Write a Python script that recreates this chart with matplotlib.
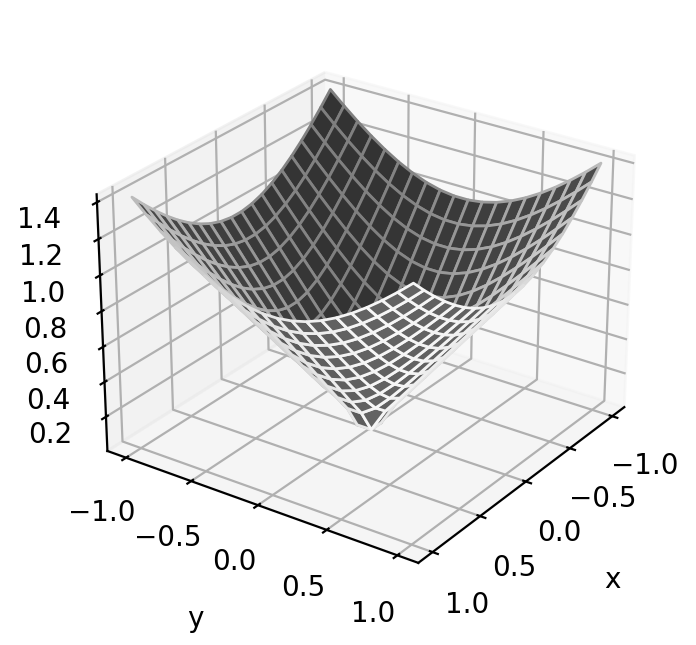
import numpy as np
import matplotlib
matplotlib.use("Agg")
import matplotlib.pyplot as plt

# x and y grid positions (one half; the other half mirrors it)
half_axis = [0.0526, 0.1579, 0.2632, 0.3684, 0.4737, 0.5789, 0.6842, 0.7895, 0.8947, 1.0]

# surface heights for one quadrant of the grid
z_quadrant = [
    [0.0300, 0.1664, 0.2684, 0.3722, 0.4766, 0.5813, 0.6862, 0.7912, 0.8963, 1.0014],
    [0.1664, 0.2233, 0.3069, 0.4008, 0.4993, 0.6001, 0.7022, 0.8051, 0.9086, 1.0124],
    [0.2684, 0.3069, 0.3722, 0.4527, 0.5419, 0.6360, 0.7331, 0.8322, 0.9326, 1.0340],
    [0.3722, 0.4008, 0.4527, 0.5210, 0.6001, 0.6862, 0.7771, 0.8712, 0.9676, 1.0657],
    [0.4766, 0.4993, 0.5419, 0.6001, 0.6699, 0.7480, 0.8322, 0.9207, 1.0124, 1.1065],
    [0.5813, 0.6001, 0.6360, 0.6862, 0.7480, 0.8187, 0.8963, 0.9790, 1.0657, 1.1555],
    [0.6862, 0.7022, 0.7331, 0.7771, 0.8322, 0.8963, 0.9676, 1.0447, 1.1264, 1.2117],
    [0.7912, 0.8051, 0.8322, 0.8712, 0.9207, 0.9790, 1.0447, 1.1165, 1.1933, 1.2741],
    [0.8963, 0.9086, 0.9326, 0.9676, 1.0124, 1.0657, 1.1264, 1.1933, 1.2654, 1.3418],
    [1.0014, 1.0124, 1.0340, 1.0657, 1.1065, 1.1555, 1.2117, 1.2741, 1.3418, 1.4142],
]

ha = np.array(half_axis)
axis = np.concatenate([-ha[::-1], ha])
q = np.array(z_quadrant)
Z = np.block([[q[::-1, ::-1], q[::-1, :]], [q[:, ::-1], q]])
X, Y = np.meshgrid(axis, axis)

fig = plt.figure(figsize=(3.48, 3.225), dpi=200)
ax = fig.add_axes([0.0965, 0.06, 0.845, 0.912], projection="3d")
ax.plot_surface(X, Y, Z, color="#666666", edgecolors="white", linewidth=1)
ax.view_init(elev=26.5, azim=35)
ax.set_xlabel("x", labelpad=9)
ax.set_ylabel("y", labelpad=9)
ax.set_xticks([-1.0, -0.5, 0.0, 0.5, 1.0])
ax.set_yticks([-1.0, -0.5, 0.0, 0.5, 1.0])
fig.savefig("out.png", dpi=200)
